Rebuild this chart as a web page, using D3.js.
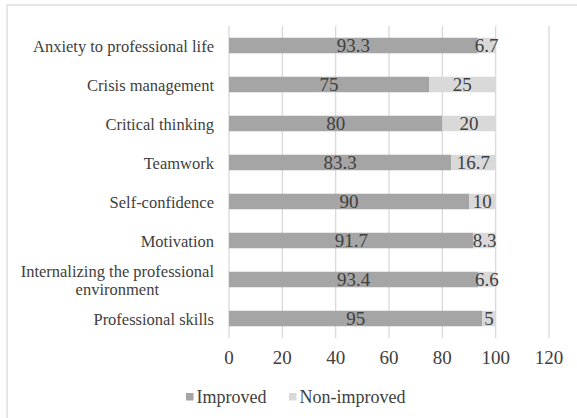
<!DOCTYPE html>
<html><head><meta charset="utf-8">
<script src="https://cdn.jsdelivr.net/npm/d3@7"></script>
<style>body{margin:0;background:#fff}svg{display:block}
svg text{font-family:"Liberation Serif","Times New Roman",Tinos,"DejaVu Serif",serif;}</style>
</head><body>
<script>
const categories = ["Anxiety to professional life","Crisis management","Critical thinking","Teamwork","Self-confidence","Motivation","Internalizing the professional environment","Professional skills"];
const improved = [93.3,75,80,83.3,90,91.7,93.4,95];
const nonImproved = [6.7,25,20,16.7,10,8.3,6.6,5];
const xTicks = [0,20,40,60,80,100,120];
const seriesNames = ["Improved","Non-improved"];

const W=577,H=418;
const svg=d3.select("body").append("svg").attr("width",W).attr("height",H);
const txt="#404040";

svg.append("rect").attr("x",7).attr("y",5).attr("width",W).attr("height",H)
  .attr("fill","#fff").attr("stroke","#d9d9d9").attr("stroke-width",1.3);

const x=d3.scaleLinear().domain([0,120]).range([229,549]);
const y=d3.scaleBand().domain(categories).range([26,338]).paddingInner(0.6).paddingOuter(0.3);

svg.append("g").selectAll("line").data(xTicks).join("line")
  .attr("x1",d=>x(d)).attr("x2",d=>x(d)).attr("y1",26).attr("y2",338)
  .attr("stroke","#d9d9d9").attr("stroke-width",1.3);

const rows=categories.map((c,i)=>({c,a:improved[i],b:nonImproved[i]}));
const bh=15.5;
const cy=d=>y(d.c)+y.bandwidth()/2;

svg.append("g").selectAll("rect").data(rows).join("rect")
  .attr("x",x(0)).attr("y",d=>cy(d)-bh/2).attr("width",d=>x(d.a)-x(0)).attr("height",bh).attr("fill","#a5a5a5");
svg.append("g").selectAll("rect").data(rows).join("rect")
  .attr("x",d=>x(d.a)).attr("y",d=>cy(d)-bh/2).attr("width",d=>x(d.a+d.b)-x(d.a)).attr("height",bh).attr("fill","#d9d9d9");

const lbl=svg.append("g").attr("font-size",19).attr("fill",txt).attr("text-anchor","middle");
lbl.selectAll("text.a").data(rows).join("text").attr("class","a")
  .attr("x",d=>x(d.a/2)).attr("y",d=>cy(d)+6.5).text(d=>d.a);
lbl.selectAll("text.b").data(rows).join("text").attr("class","b")
  .attr("x",d=>x(d.a+d.b/2)).attr("y",d=>cy(d)+6.5).text(d=>d.b);

const cat=svg.append("g").attr("font-size",16.5).attr("fill",txt).attr("text-anchor","end");
rows.forEach(d=>{
  const t=cat.append("text").attr("x",214).attr("y",cy(d)+6);
  if(d.c==="Internalizing the professional environment"){
    t.attr("y",cy(d)-2.5);
    t.append("tspan").attr("x",214).text("Internalizing the professional");
    t.append("tspan").attr("x",178).attr("dy",17.5).attr("text-anchor","middle").text("environment");
  } else t.text(d.c);
});
cat.selectAll("tspan").filter(function(){return this.textContent==="environment";}).each(function(){
  const first=this.previousSibling.getComputedTextLength();
  d3.select(this).attr("x",214-first/2);
});

svg.append("g").attr("font-size",19).attr("fill",txt).attr("text-anchor","middle")
  .selectAll("text").data(xTicks).join("text").attr("x",d=>x(d)).attr("y",363.5).text(d=>d);

const lg=svg.append("g").attr("font-size",18).attr("fill",txt);
const lx=[186,289], cols=["#a5a5a5","#d9d9d9"];
seriesNames.forEach((n,i)=>{
  lg.append("rect").attr("x",lx[i]).attr("y",393).attr("width",7.5).attr("height",7.5).attr("fill",cols[i]);
  lg.append("text").attr("x",lx[i]+10.5).attr("y",402.5).text(n);
});
</script>
</body></html>
